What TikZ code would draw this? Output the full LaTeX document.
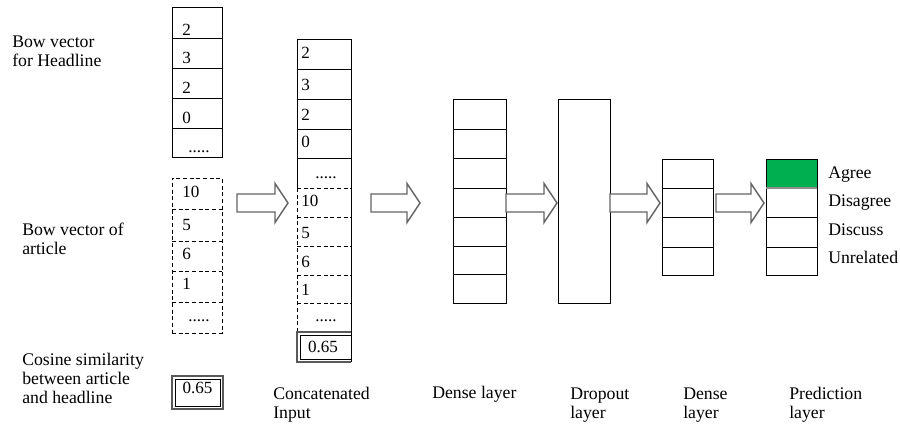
\documentclass[tikz,border=0pt]{standalone}
\usepackage{fontspec}
\setmainfont{Liberation Serif}
\usetikzlibrary{calc}
\definecolor{predgreen}{RGB}{0,176,80}
\definecolor{arrowgray}{RGB}{100,100,100}
\tikzset{
  lbl/.style={anchor=base west, inner sep=0pt, font=\fontsize{13.3}{14.25}\selectfont},
  val/.style={anchor=base west, inner sep=0pt, font=\fontsize{12.8}{14}\selectfont},
  valc/.style={val, anchor=base},
  solidline/.style={draw=black, line width=0.75pt},
  dashline/.style={draw=black, line width=0.75pt, dash pattern=on 3pt off 2pt},
  blockarrow/.style={draw=arrowgray, line width=1.1pt, fill=white, line join=miter},
  outerdbl/.style={draw=black!65, line width=1.3pt},
}
\newcommand\boxnode[6][]{\node[inner sep=0pt, outer sep=0pt,
  minimum width={(#5-#3)*0.75pt}, minimum height={(#6-#4)*0.75pt}, #1]
  (#2) at ({(#3+#5)/2},{(#4+#6)/2}) {};}
\newcommand\blockarr[2]{\draw[blockarrow]
  ($(#1)+(0,-9)$) -- ($(#2)+(-13,-9)$) -- ($(#2)+(-13,-19.5)$) -- (#2)
  -- ($(#2)+(-13,19.5)$) -- ($(#2)+(-13,9)$) -- ($(#1)+(0,9)$) -- cycle;}
\begin{document}
\begin{tikzpicture}[x=0.75pt,y=-0.75pt]
\useasboundingbox (0,0) rectangle (900,426);

% ---------- Headline BoW vector ----------
\boxnode[solidline]{headcol}{172}{7}{222}{157}
\foreach \yy in {38,68,98,128} \draw[solidline] (172,\yy) -- (222,\yy);
\node[val] (h1) at (182,35) {2};
\node[val] (h2) at (182,63) {3};
\node[val] (h3) at (182,93) {2};
\node[val] (h4) at (182,123) {0};
\node[valc] (h5) at (199,152) {.....};

% ---------- Article BoW vector (dashed) ----------
\boxnode[dashline]{artcol}{172}{178}{222}{333}
\foreach \yy in {209,241,271,302} \draw[dashline] (172,\yy) -- (222,\yy);
\node[val] (r1) at (182,197) {10};
\node[val] (r2) at (182,230) {5};
\node[val] (r3) at (182,259) {6};
\node[val] (r4) at (182,289) {1};
\node[valc] (r5) at (199,321) {.....};

% ---------- Cosine box ----------
\boxnode[outerdbl]{cosbox}{172}{376}{223}{409}
\draw[solidline] (175,379) rectangle (220,406);
\node[valc] (cosv) at (197.5,393) {0.65};

% ---------- Concatenated input ----------
\boxnode{concat}{297}{39}{351}{362}
\draw[solidline] (297,188) -- (297,39) -- (351,39) -- (351,362);
\foreach \yy in {69,99,129,158} \draw[solidline] (297,\yy) -- (351,\yy);
\draw[dashline] (297,188) -- (297,332);
\foreach \yy in {188,217,246,275,303} \draw[dashline] (297,\yy) -- (351,\yy);
\draw[outerdbl] (351,332) -- (297,332) -- (297,362) -- (351,362);
\draw[solidline] (351,335) -- (300,335) -- (300,359) -- (351,359);
\node[val] (c1) at (301,58) {2};
\node[val] (c2) at (301,90) {3};
\node[val] (c3) at (301,120) {2};
\node[val] (c4) at (301,147) {0};
\node[valc] (c5) at (326,178) {.....};
\node[val] (c6) at (301,206) {10};
\node[val] (c7) at (301,238) {5};
\node[val] (c8) at (301,267) {6};
\node[val] (c9) at (301,295) {1};
\node[valc] (c10) at (326,321) {.....};
\node[valc] (c11) at (323,352) {0.65};

% ---------- Dense layer 1 ----------
\boxnode[solidline]{dense1}{453}{99}{506}{303}
\foreach \yy in {129,158,188,217,246,274} \draw[solidline] (453,\yy) -- (506,\yy);

% ---------- Dropout ----------
\boxnode[solidline]{dropout}{558}{99}{610}{303}

% ---------- Dense layer 2 ----------
\boxnode[solidline]{dense2}{662}{159}{713}{275}
\foreach \yy in {188,217,247} \draw[solidline] (662,\yy) -- (713,\yy);

% ---------- Prediction ----------
\fill[predgreen] (766,159) rectangle (817,188);
\boxnode[solidline]{pred}{766}{159}{817}{275}
\draw[draw=black!45, line width=0.9pt] (766,188) -- (817,188);
\foreach \yy in {217,247} \draw[solidline] (766,\yy) -- (817,\yy);
\node[lbl] (pa) at (828,178) {Agree};
\node[lbl] (pd) at (828,206) {Disagree};
\node[lbl] (pc) at (828,235) {Discuss};
\node[lbl] (pu) at (828,263) {Unrelated};

% ---------- Block arrows ----------
\coordinate (a1s) at (237,203); \coordinate (a1e) at (288,203);
\coordinate (a2s) at (371,203); \coordinate (a2e) at (420,203);
\coordinate (a3s) at (506,203); \coordinate (a3e) at (557,203);
\coordinate (a4s) at (610,203); \coordinate (a4e) at (660,203);
\coordinate (a5s) at (716,203); \coordinate (a5e) at (764,203);
\blockarr{a1s}{a1e}
\blockarr{a2s}{a2e}
\blockarr{a3s}{a3e}
\blockarr{a4s}{a4e}
\blockarr{a5s}{a5e}

% ---------- Labels ----------
\node[lbl] (lhead) at (12,47) {\begin{tabular}[t]{@{}l@{}}Bow vector\\for Headline\end{tabular}};
\node[lbl] (lart) at (22,235) {\begin{tabular}[t]{@{}l@{}}Bow vector of\\article\end{tabular}};
\node[lbl] (lcos) at (22,365) {\begin{tabular}[t]{@{}l@{}}Cosine similarity\\between article\\and headline\end{tabular}};
\node[lbl] (lconc) at (273,399) {\begin{tabular}[t]{@{}l@{}}Concatenated\\Input\end{tabular}};
\node[lbl] (ld1) at (432,398) {Dense layer};
\node[lbl] (ldrop) at (570,399) {\begin{tabular}[t]{@{}l@{}}Dropout\\layer\end{tabular}};
\node[lbl] (ld2) at (683,399) {\begin{tabular}[t]{@{}l@{}}Dense\\layer\end{tabular}};
\node[lbl] (lpred) at (789,399) {\begin{tabular}[t]{@{}l@{}}Prediction\\layer\end{tabular}};
\end{tikzpicture}
\end{document}
